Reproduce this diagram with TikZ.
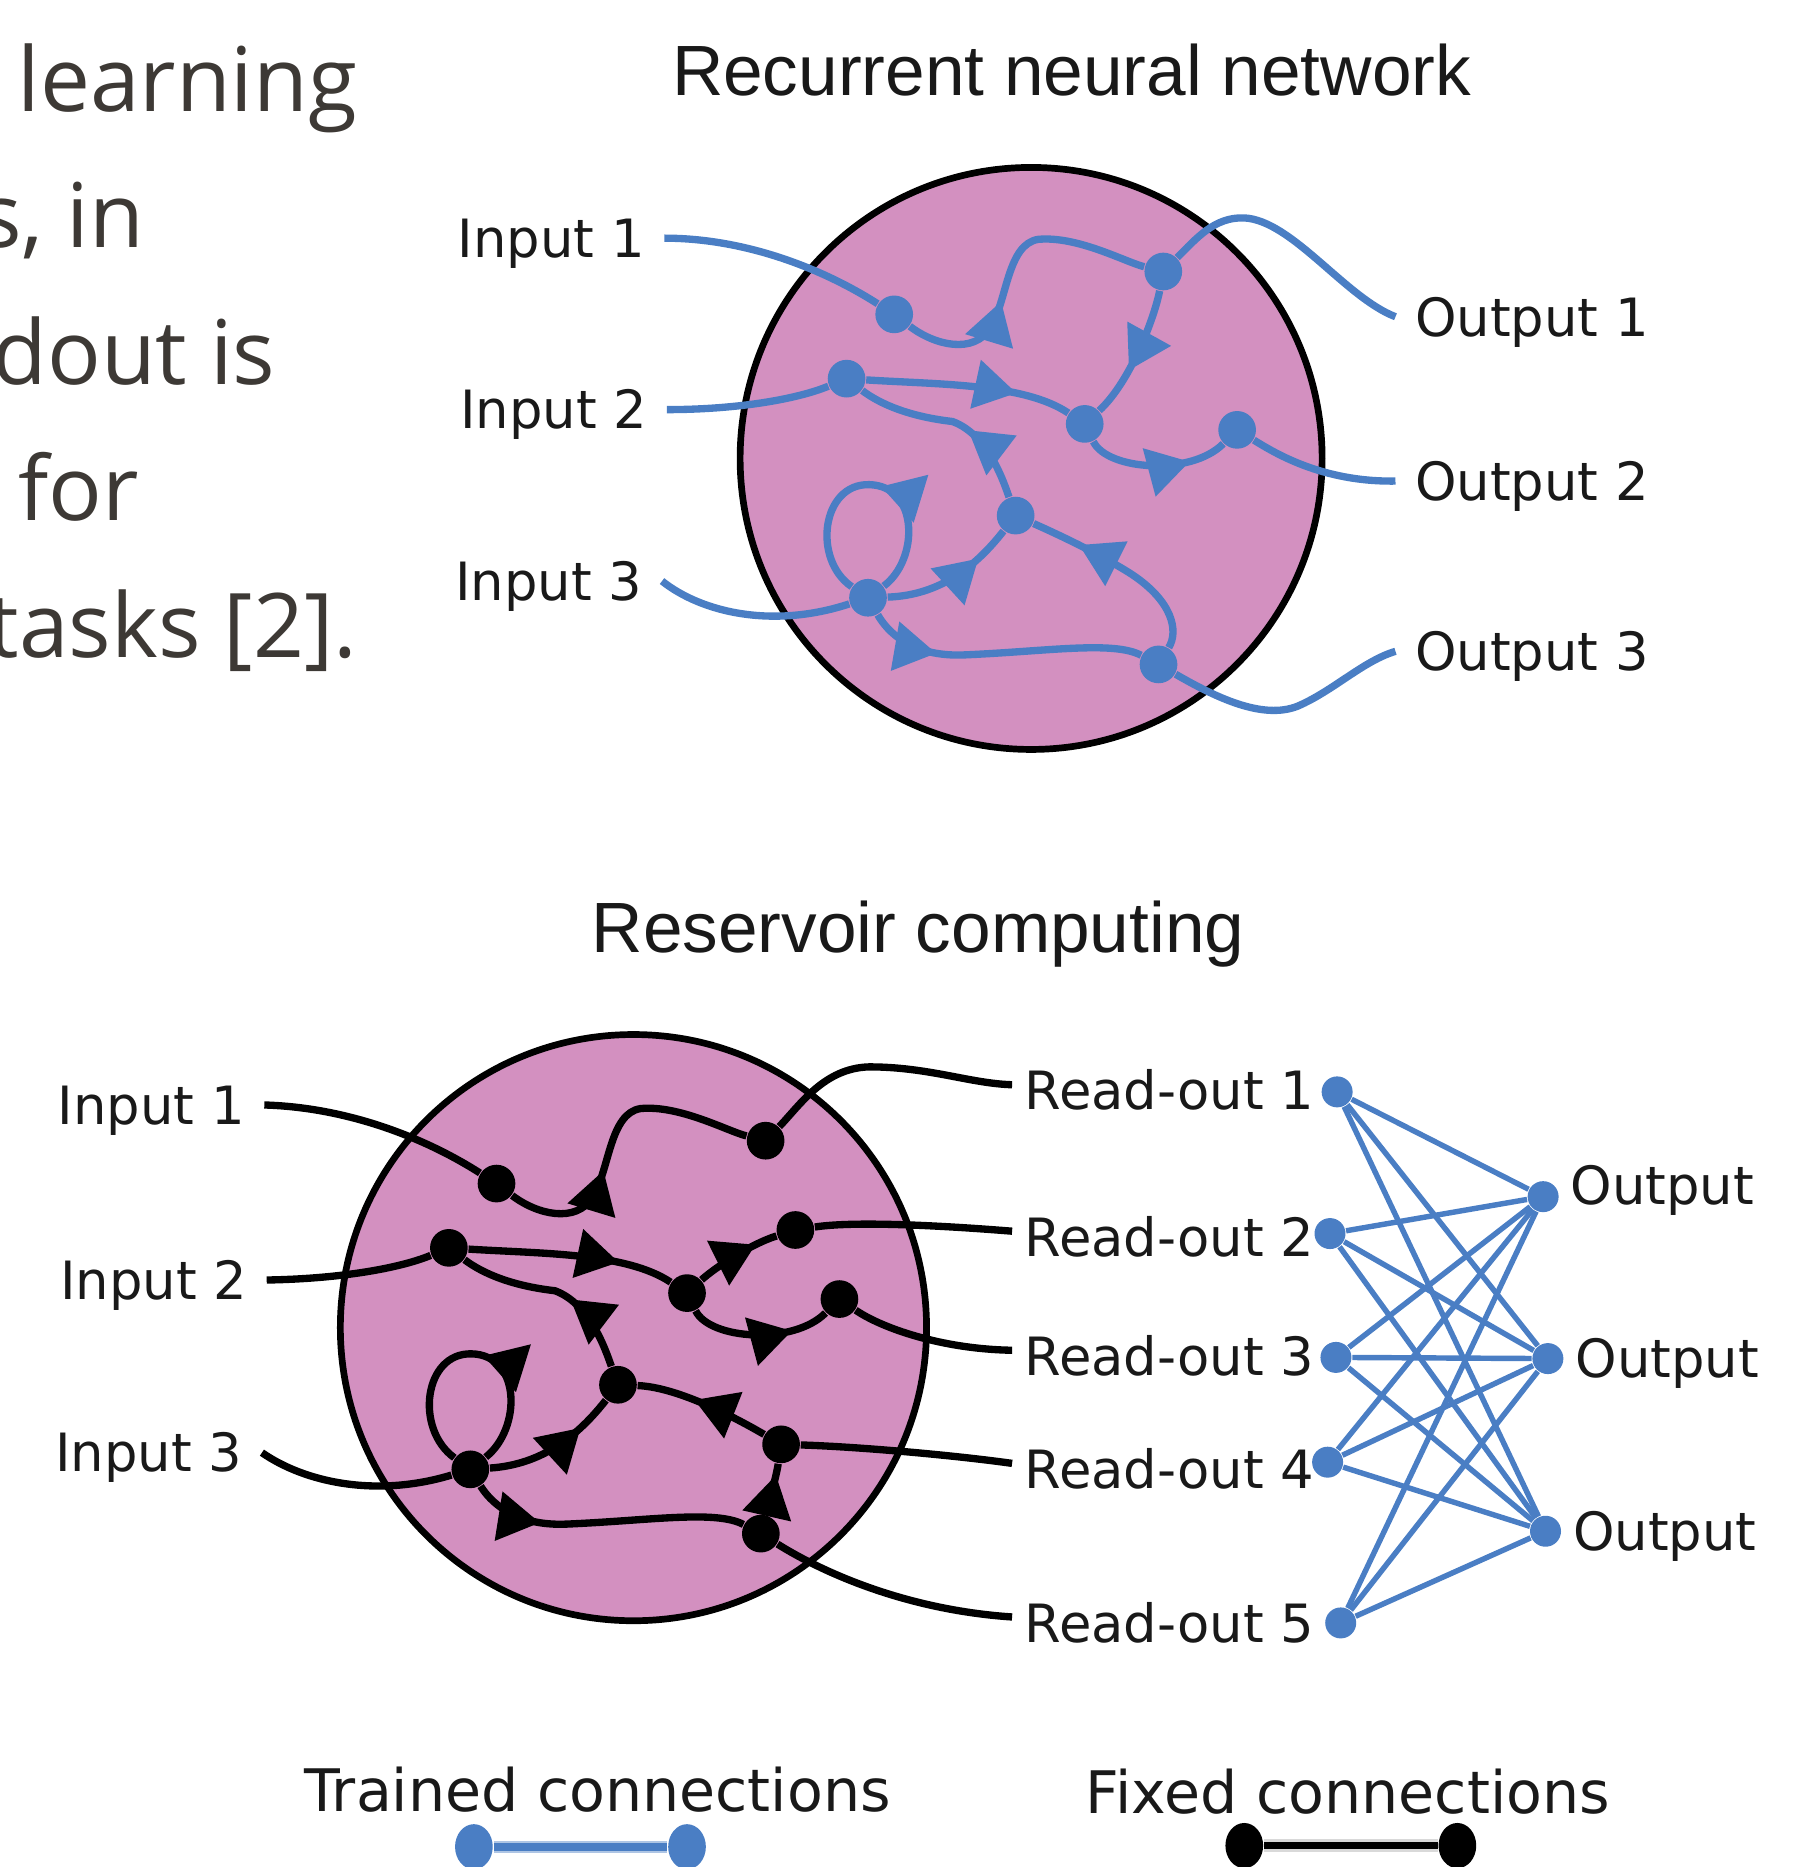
\documentclass[tikz,border=0pt]{standalone}
\usepackage{fontspec}
\usetikzlibrary{positioning, arrows.meta, decorations.markings, shapes.geometric}

\newfontfamily\labelfont{DejaVu Sans}
\newfontfamily\titlefont{Liberation Sans}
\newfontfamily\parafont{Open Sans}

\definecolor{poolpink}{RGB}{211,144,192}
\definecolor{netblue}{RGB}{74,126,196}
\definecolor{paragray}{RGB}{61,57,53}

\tikzstyle{pool} = [circle, draw=black, line width=1.6pt, fill=poolpink, inner sep=0pt]
\tikzstyle{dot} = [circle, fill, inner sep=0pt, minimum size=9pt]
\tikzstyle{smalldot} = [circle, fill=netblue, inner sep=0pt, minimum size=7.4pt]
\tikzstyle{legenddot} = [ellipse, fill, inner sep=0pt, minimum width=9pt, minimum height=10.8pt]
\tikzstyle{wire} = [line width=1.75pt]
\tikzstyle{lbl} = [font=\labelfont\fontsize{12.6pt}{15pt}\selectfont, text=black!90,
 text height=9.2pt, text depth=0pt, inner ysep=0pt, inner xsep=4.5pt]
\tikzstyle{rolbl} = [text height=12pt, inner xsep=2.85pt]
\tikzstyle{heading} = [font=\titlefont\fontsize{17pt}{20pt}\selectfont, text=black!90, inner sep=0pt, anchor=base]
\tikzstyle{legend} = [font=\labelfont\fontsize{14pt}{17pt}\selectfont, text=black!90, inner sep=0pt, anchor=base]
\tikzstyle{para} = [font=\parafont\fontsize{21.3pt}{26pt}\selectfont, text=paragray, inner sep=0pt, anchor=base west]
\tikzset{midarrow/.style={postaction=decorate, decoration={markings,
 mark=at position #1 with {\arrow{Triangle[length=10pt, width=11.5pt]}}}}}

\begin{document}
\begin{tikzpicture}[x=0.01cm, y=-0.01cm]
\useasboundingbox (0,0) rectangle (1509,1568);
\clip (0,0) rectangle (1509,1568);

% running text cut by the left margin
\node[para] (line1) at (14,94) {learning};
\node[para] (line2) at (-18,208) {s, in};
\node[para] (line3) at (-7,323) {dout is};
\node[para] (line4) at (15,437) {for};
\node[para] (line5) at (-11,552) {tasks [2].};

% ---------------- recurrent neural network ----------------
\node[heading] (rnnTitle) at (900,80) {Recurrent neural network};
\node[pool, minimum size=139pt] (rnn) at (866,385) {};

\begin{scope}[netblue]
\node[dot] (rnnA) at (751,264) {};
\node[dot] (rnnB) at (977,228) {};
\node[dot] (rnnC) at (711,318) {};
\node[dot] (rnnD) at (911,356) {};
\node[dot] (rnnE) at (1039,361) {};
\node[dot] (rnnF) at (853,433) {};
\node[dot] (rnnG) at (729,502) {};
\node[dot] (rnnH) at (973,558) {};

\node[lbl, anchor=east] (rnnIn1) at (558,200) {Input 1};
\node[lbl, anchor=east] (rnnIn2) at (560,344) {Input 2};
\node[lbl, anchor=east] (rnnIn3) at (556,488) {Input 3};
\node[lbl, anchor=west] (rnnOut1) at (1172,266) {Output 1};
\node[lbl, anchor=west] (rnnOut2) at (1172,404) {Output 2};
\node[lbl, anchor=west] (rnnOut3) at (1172,547) {Output 3};

\draw[wire] (rnnIn1.east) .. controls (625,200) and (690,225) .. (rnnA);
\draw[wire, midarrow=0.39] (rnnA) .. controls (785,290) and (818,298) .. (832,275)
 .. controls (846,252) and (846,205) .. (872,201) .. controls (905,198) and (945,220) .. (rnnB);
\draw[wire] (rnnB) .. controls (1005,200) and (1020,182) .. (1045,183)
 .. controls (1085,185) and (1130,250) .. (rnnOut1.west);
\draw[wire, midarrow=0.63] (rnnB) .. controls (970,265) and (950,320) .. (rnnD);
\draw[wire] (rnnIn2.east) .. controls (620,344) and (670,335) .. (rnnC);
\draw[wire, midarrow=0.73] (rnnC) .. controls (790,323) and (860,322) .. (rnnD);
\draw[wire, midarrow=0.73] (rnnD) .. controls (930,395) and (1000,400) .. (rnnE);
\draw[wire] (rnnE) .. controls (1070,380) and (1110,405) .. (rnnOut2.west);
\draw[wire, midarrow=0.41] (rnnF) .. controls (843,405) and (830,365) .. (800,354)
 .. controls (765,350) and (740,340) .. (rnnC);
\draw[wire, midarrow=0.73] (rnnG) .. controls (790,500) and (820,475) .. (rnnF);
\draw[wire, midarrow=0.75] (rnnH) .. controls (990,530) and (985,505) .. (950,482)
 .. controls (920,463) and (880,445) .. (rnnF);
\draw[wire, midarrow=0.26] (rnnG) .. controls (745,530) and (765,552) .. (810,550)
 .. controls (880,547) and (935,538) .. (rnnH);
\draw[wire] (rnnIn3.east) .. controls (590,515) and (650,528) .. (rnnG);
\draw[wire] (rnnH) .. controls (1020,585) and (1060,605) .. (1090,593)
 .. controls (1120,580) and (1145,555) .. (rnnOut3.west);
\draw[wire, midarrow=0.45] (rnnG) .. controls (772,470) and (772,408) .. (730,407)
 .. controls (690,406) and (682,470) .. (rnnG);
\end{scope}

% ---------------- reservoir computing ----------------
\node[heading] (resTitle) at (771,800) {Reservoir computing};
\node[pool, minimum size=140pt] (res) at (532,1115) {};

\begin{scope}[black]
\node[dot] (resA) at (417,994) {};
\node[dot] (resB) at (643,958) {};
\node[dot] (resC) at (377,1048) {};
\node[dot] (resD) at (577,1086) {};
\node[dot] (resE) at (705,1091) {};
\node[dot] (resF) at (519,1163) {};
\node[dot] (resG) at (395,1234) {};
\node[dot] (resH) at (639,1288) {};
\node[dot] (resI) at (668,1033) {};
\node[dot] (resJ) at (656,1213) {};

\node[lbl, anchor=east] (resIn1) at (222,928) {Input 1};
\node[lbl, anchor=east] (resIn2) at (224,1075) {Input 2};
\node[lbl, anchor=east] (resIn3) at (220,1220) {Input 3};
\node[lbl, rolbl, anchor=west] (readout1) at (850,911) {Read-out 1};
\node[lbl, rolbl, anchor=west] (readout2) at (850,1034) {Read-out 2};
\node[lbl, rolbl, anchor=west] (readout3) at (850,1134) {Read-out 3};
\node[lbl, rolbl, anchor=west] (readout4) at (850,1229) {Read-out 4};
\node[lbl, rolbl, anchor=west] (readout5) at (850,1358) {Read-out 5};

\draw[wire] (resIn1.east) .. controls (291,930) and (356,955) .. (resA);
\draw[wire, midarrow=0.39] (resA) .. controls (451,1020) and (484,1028) .. (498,1005)
 .. controls (512,982) and (512,935) .. (538,931) .. controls (571,928) and (611,950) .. (resB);
\draw[wire] (resB) .. controls (672,928) and (692,897) .. (730,896)
 .. controls (780,896) and (815,910) .. (readout1.west);
\draw[wire] (resIn2.east) .. controls (286,1074) and (336,1065) .. (resC);
\draw[wire, midarrow=0.73] (resC) .. controls (456,1053) and (526,1052) .. (resD);
\draw[wire, midarrow=0.41] (resF) .. controls (509,1135) and (496,1095) .. (466,1084)
 .. controls (431,1080) and (406,1070) .. (resC);
\draw[wire, midarrow=0.73] (resG) .. controls (456,1230) and (486,1205) .. (resF);
\draw[wire, midarrow=0.26] (resG) .. controls (411,1260) and (431,1282) .. (476,1280)
 .. controls (546,1277) and (601,1268) .. (resH);
\draw[wire] (resIn3.east) .. controls (256,1245) and (316,1258) .. (resG);
\draw[wire, midarrow=0.45] (resG) .. controls (438,1200) and (438,1138) .. (396,1137)
 .. controls (356,1136) and (348,1200) .. (resG);
\draw[wire, midarrow=0.73] (resD) .. controls (596,1125) and (666,1130) .. (resE);
\draw[wire] (resE) .. controls (740,1115) and (790,1133) .. (readout3.west);
\draw[wire, midarrow=0.74] (resD) .. controls (600,1065) and (630,1045) .. (resI);
\draw[wire] (resI) .. controls (720,1025) and (800,1030) .. (readout2.west);
\draw[wire, midarrow=0.57] (resJ) .. controls (620,1192) and (570,1165) .. (resF);
\draw[wire, midarrow=0.78] (resH) .. controls (645,1265) and (652,1240) .. (resJ);
\draw[wire] (resJ) .. controls (720,1215) and (800,1222) .. (readout4.west);
\draw[wire] (resH) .. controls (690,1320) and (760,1352) .. (readout5.west);
\end{scope}

% trained read-out layer
\node[smalldot] (r1) at (1123,917) {};
\node[smalldot] (r2) at (1117,1036) {};
\node[smalldot] (r3) at (1122,1140) {};
\node[smalldot] (r4) at (1115,1228) {};
\node[smalldot] (r5) at (1126,1363) {};
\node[smalldot] (o1) at (1296,1005) {};
\node[smalldot] (o2) at (1300,1141) {};
\node[smalldot] (o3) at (1298,1286) {};
\foreach \i in {1,...,5}
  \foreach \j in {1,2,3}
    \draw[netblue, line width=1.3pt] (r\i) -- (o\j);
\node[lbl, inner xsep=1.5pt, right=1pt of o1, yshift=2.8pt] (out1) {Output};
\node[lbl, inner xsep=1.5pt, right=1pt of o2] (out2) {Output};
\node[lbl, inner xsep=1.5pt, right=1pt of o3] (out3) {Output};

% legend
\node[legend] (trained) at (502,1521) {Trained connections};
\node[legend] (fixed) at (1132,1523) {Fixed connections};
\node[legenddot, netblue] (trainedL) at (398,1551) {};
\node[legenddot, netblue] (trainedR) at (577,1551) {};
\node[legenddot, black] (fixedL) at (1045,1550) {};
\node[legenddot, black] (fixedR) at (1224,1550) {};
\draw[netblue!45, line width=3pt] (trainedL) -- (trainedR);
\draw[netblue, line width=1.8pt] (trainedL) -- (trainedR);
\draw[black!15, line width=3.2pt] (fixedL) -- (fixedR);
\draw[black, line width=1.7pt] (fixedL) -- (fixedR);

\end{tikzpicture}
\end{document}
